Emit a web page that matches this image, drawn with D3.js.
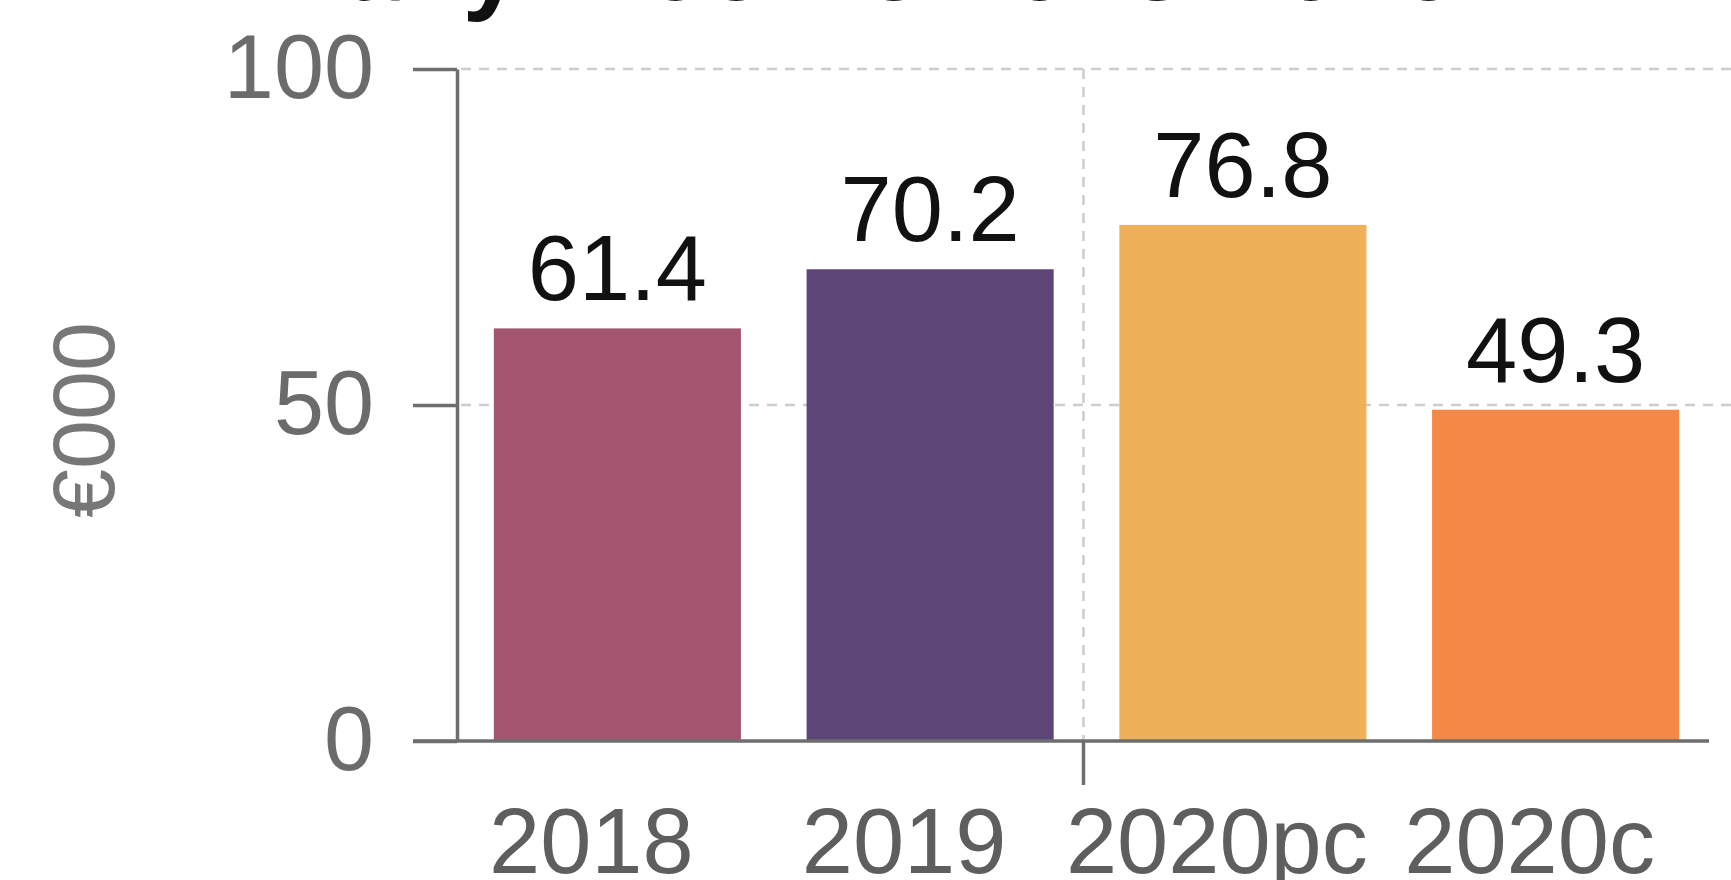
<!DOCTYPE html>
<html>
<head>
<meta charset="utf-8">
<script src="https://cdn.jsdelivr.net/npm/d3@7"></script>
<style>
  html, body { margin: 0; padding: 0; background: #ffffff; overflow: hidden; }
  svg { display: block; }
</style>
</head>
<body>
<svg id="chart" width="1731" height="880"></svg>
<script>
// Income per period, in thousands of euro
const categories = ["2018", "2019", "2020pc", "2020c"];
const values = [61.4, 70.2, 76.8, 49.3];
const barColors = ["#a3546e", "#5d4677", "#efb05a", "#f58747"];
const yTicks = [0, 50, 100];
const gridTicks = [50, 100];
const titleText = "Daily Income 2018-2020";
const yLabel = "€000";
const splitBefore = "2020pc";   // dashed divider drawn in front of this period

const W = 1731, H = 880;
const font = "'Liberation Sans', Arial, Helvetica, sans-serif";
const axisColor = "#6e6e6e";
const gridColor = "#cdcdcd";
const axisX = 457;
const labelShift = -26;

const svg = d3.select("#chart");

const x = d3.scaleBand()
  .domain(categories)
  .range([461, 1712])
  .paddingInner(0.21)
  .paddingOuter(0.105);

const y = d3.scaleLinear().domain([0, 100]).range([741, 69]);

const color = d3.scaleOrdinal().domain(categories).range(barColors);
const data = categories.map((c, i) => ({ cat: c, value: values[i] }));

// dashed horizontal gridlines
svg.append("g")
  .selectAll("line")
  .data(gridTicks)
  .join("line")
  .attr("x1", axisX + 4)
  .attr("x2", W)
  .attr("y1", d => y(d))
  .attr("y2", d => y(d))
  .attr("stroke", gridColor)
  .attr("stroke-width", 2.5)
  .attr("stroke-dasharray", "10,8");

// dashed divider between the yearly bars and the 2020 variants
const splitIdx = categories.indexOf(splitBefore);
const splitX = (x(categories[splitIdx - 1]) + x.bandwidth() + x(splitBefore)) / 2 - 3;
svg.append("line")
  .attr("x1", splitX).attr("x2", splitX)
  .attr("y1", y(100)).attr("y2", y(0))
  .attr("stroke", gridColor)
  .attr("stroke-width", 2.5)
  .attr("stroke-dasharray", "10,8");

// bars
svg.append("g")
  .selectAll("rect")
  .data(data)
  .join("rect")
  .attr("x", d => x(d.cat))
  .attr("y", d => y(d.value))
  .attr("width", x.bandwidth())
  .attr("height", d => y(0) - y(d.value))
  .attr("fill", d => color(d.cat));

// value labels above bars
svg.append("g")
  .selectAll("text")
  .data(data)
  .join("text")
  .attr("x", d => x(d.cat) + x.bandwidth() / 2)
  .attr("y", d => y(d.value) - 28)
  .attr("text-anchor", "middle")
  .attr("font-family", font)
  .attr("font-size", 92)
  .attr("fill", "#111111")
  .text(d => d.value.toFixed(1));

// y axis
const yAxis = svg.append("g")
  .attr("transform", `translate(${axisX},0)`)
  .call(d3.axisLeft(y).tickValues(yTicks).tickSize(44).tickSizeOuter(0).tickPadding(39));
yAxis.select(".domain").attr("stroke", axisColor).attr("stroke-width", 3.5);
yAxis.selectAll(".tick line").attr("stroke", axisColor).attr("stroke-width", 3.5);
yAxis.selectAll(".tick text")
  .attr("font-family", font)
  .attr("font-size", 90)
  .attr("fill", "#6b6b6b");

// x axis baseline and divider tick
svg.append("line")
  .attr("x1", axisX - 44).attr("x2", 1709)
  .attr("y1", y(0)).attr("y2", y(0))
  .attr("stroke", axisColor)
  .attr("stroke-width", 3.5);
svg.append("line")
  .attr("x1", splitX).attr("x2", splitX)
  .attr("y1", y(0)).attr("y2", y(0) + 44)
  .attr("stroke", axisColor)
  .attr("stroke-width", 3.5);

// category labels
svg.append("g")
  .selectAll("text")
  .data(categories)
  .join("text")
  .attr("x", d => x(d) + x.bandwidth() / 2 + labelShift)
  .attr("y", 873)
  .attr("text-anchor", "middle")
  .attr("font-family", font)
  .attr("font-size", 92)
  .attr("fill", "#5e5e5e")
  .text(d => d);

// y axis title
svg.append("text")
  .attr("transform", "translate(114,420) rotate(-90)")
  .attr("text-anchor", "middle")
  .attr("font-family", font)
  .attr("font-size", 88)
  .attr("fill", "#777777")
  .text(yLabel);

// chart title, running off the top edge
svg.append("text")
  .attr("x", 268)
  .attr("y", 0)
  .attr("font-family", font)
  .attr("font-size", 106)
  .attr("font-weight", "bold")
  .attr("fill", "#111111")
  .text(titleText);
</script>
</body>
</html>
